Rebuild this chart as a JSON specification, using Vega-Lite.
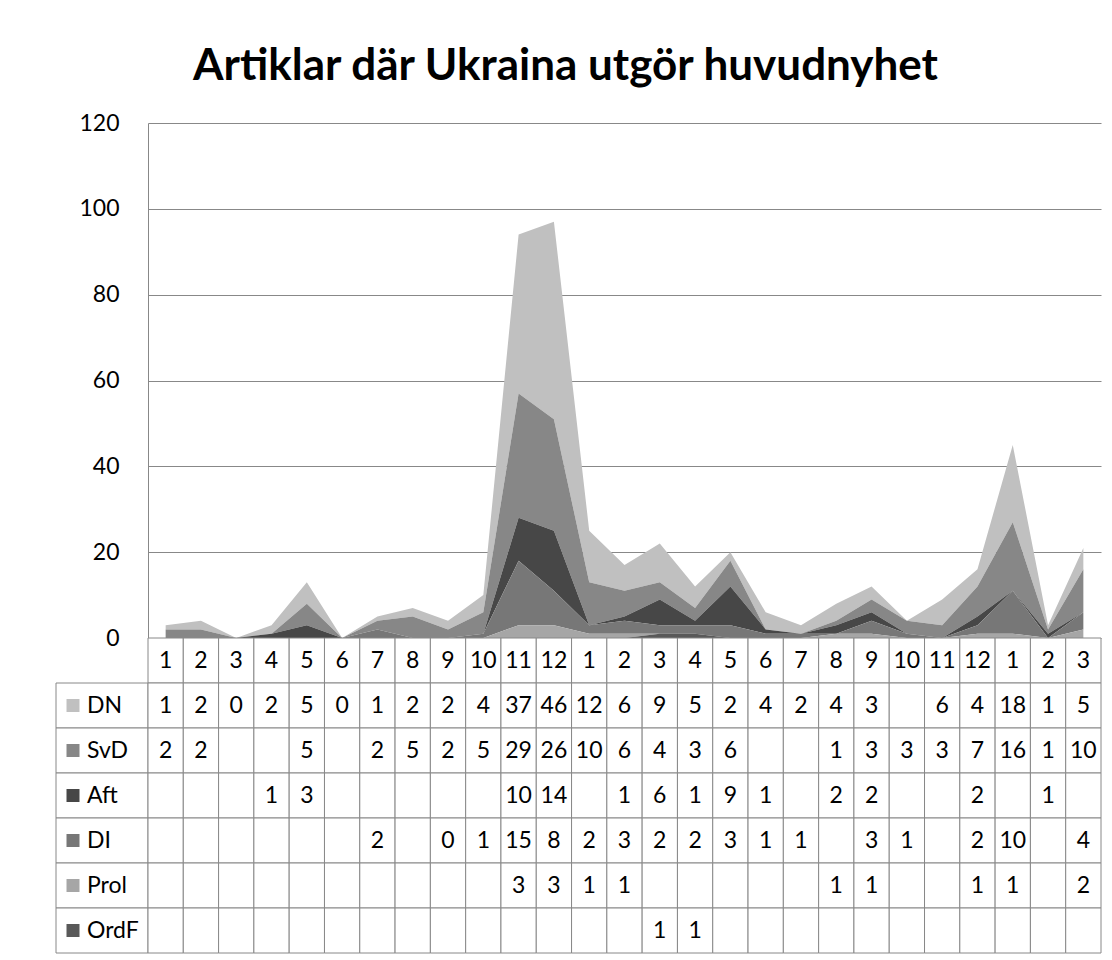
{
  "$schema": "https://vega.github.io/schema/vega-lite/v6.json",
  "background": "white",
  "padding": {"left": 55, "top": 45, "right": 5, "bottom": 5},
  "title": {"text": "Artiklar där Ukraina utgör huvudnyhet", "font": "Lato", "fontSize": 44, "fontWeight": "bold", "color": "#000000", "anchor": "middle", "offset": 23, "dx": -13},
  "datasets": {
    "d": [
      {"k": "2004-01", "m": 1, "DN": 1, "SvD": 2, "Aft": null, "DI": null, "Prol": null, "OrdF": null},
      {"k": "2004-02", "m": 2, "DN": 2, "SvD": 2, "Aft": null, "DI": null, "Prol": null, "OrdF": null},
      {"k": "2004-03", "m": 3, "DN": 0, "SvD": null, "Aft": null, "DI": null, "Prol": null, "OrdF": null},
      {"k": "2004-04", "m": 4, "DN": 2, "SvD": null, "Aft": 1, "DI": null, "Prol": null, "OrdF": null},
      {"k": "2004-05", "m": 5, "DN": 5, "SvD": 5, "Aft": 3, "DI": null, "Prol": null, "OrdF": null},
      {"k": "2004-06", "m": 6, "DN": 0, "SvD": null, "Aft": null, "DI": null, "Prol": null, "OrdF": null},
      {"k": "2004-07", "m": 7, "DN": 1, "SvD": 2, "Aft": null, "DI": 2, "Prol": null, "OrdF": null},
      {"k": "2004-08", "m": 8, "DN": 2, "SvD": 5, "Aft": null, "DI": null, "Prol": null, "OrdF": null},
      {"k": "2004-09", "m": 9, "DN": 2, "SvD": 2, "Aft": null, "DI": 0, "Prol": null, "OrdF": null},
      {"k": "2004-10", "m": 10, "DN": 4, "SvD": 5, "Aft": null, "DI": 1, "Prol": null, "OrdF": null},
      {"k": "2004-11", "m": 11, "DN": 37, "SvD": 29, "Aft": 10, "DI": 15, "Prol": 3, "OrdF": null},
      {"k": "2004-12", "m": 12, "DN": 46, "SvD": 26, "Aft": 14, "DI": 8, "Prol": 3, "OrdF": null},
      {"k": "2005-01", "m": 1, "DN": 12, "SvD": 10, "Aft": null, "DI": 2, "Prol": 1, "OrdF": null},
      {"k": "2005-02", "m": 2, "DN": 6, "SvD": 6, "Aft": 1, "DI": 3, "Prol": 1, "OrdF": null},
      {"k": "2005-03", "m": 3, "DN": 9, "SvD": 4, "Aft": 6, "DI": 2, "Prol": null, "OrdF": 1},
      {"k": "2005-04", "m": 4, "DN": 5, "SvD": 3, "Aft": 1, "DI": 2, "Prol": null, "OrdF": 1},
      {"k": "2005-05", "m": 5, "DN": 2, "SvD": 6, "Aft": 9, "DI": 3, "Prol": null, "OrdF": null},
      {"k": "2005-06", "m": 6, "DN": 4, "SvD": null, "Aft": 1, "DI": 1, "Prol": null, "OrdF": null},
      {"k": "2005-07", "m": 7, "DN": 2, "SvD": null, "Aft": null, "DI": 1, "Prol": null, "OrdF": null},
      {"k": "2005-08", "m": 8, "DN": 4, "SvD": 1, "Aft": 2, "DI": null, "Prol": 1, "OrdF": null},
      {"k": "2005-09", "m": 9, "DN": 3, "SvD": 3, "Aft": 2, "DI": 3, "Prol": 1, "OrdF": null},
      {"k": "2005-10", "m": 10, "DN": null, "SvD": 3, "Aft": null, "DI": 1, "Prol": null, "OrdF": null},
      {"k": "2005-11", "m": 11, "DN": 6, "SvD": 3, "Aft": null, "DI": null, "Prol": null, "OrdF": null},
      {"k": "2005-12", "m": 12, "DN": 4, "SvD": 7, "Aft": 2, "DI": 2, "Prol": 1, "OrdF": null},
      {"k": "2006-01", "m": 1, "DN": 18, "SvD": 16, "Aft": null, "DI": 10, "Prol": 1, "OrdF": null},
      {"k": "2006-02", "m": 2, "DN": 1, "SvD": 1, "Aft": 1, "DI": null, "Prol": null, "OrdF": null},
      {"k": "2006-03", "m": 3, "DN": 5, "SvD": 10, "Aft": null, "DI": 4, "Prol": 2, "OrdF": null}
    ]
  },
  "data": {"name": "d"},
  "columns": 2,
  "bounds": "flush",
  "spacing": {"row": 0, "column": 0},
  "resolve": {"scale": {"x": "independent", "y": "independent", "color": "independent"}},
  "concat": [
    {
      "width": 92,
      "height": 515,
      "view": {"stroke": null},
      "data": {"values": []},
      "mark": {"type": "point", "opacity": 0},
      "encoding": {}
    },
    {
      "width": 953,
      "height": 515,
      "view": {"stroke": null},
      "transform": [
        {"fold": ["DN", "SvD", "Aft", "DI", "Prol", "OrdF"], "as": ["s", "v"]},
        {"filter": "datum.v != null"},
        {"impute": "v", "key": "k", "groupby": ["s"], "value": 0},
        {"calculate": "indexof(['OrdF','Prol','DI','Aft','SvD','DN'], datum.s)", "as": "o"}
      ],
      "mark": {"type": "area"},
      "encoding": {
        "x": {
          "field": "k", "type": "ordinal",
          "scale": {"type": "point", "padding": 0.5},
          "axis": null
        },
        "y": {
          "field": "v", "type": "quantitative", "stack": "zero",
          "scale": {"domain": [0, 120], "nice": false},
          "axis": {
            "title": null, "values": [0, 20, 40, 60, 80, 100, 120],
            "grid": true, "gridColor": "#888888", "domain": true, "domainColor": "#888888",
            "ticks": false, "labelPadding": 29, "labelFont": "Lato", "labelFontSize": 23, "labelColor": "#000000"
          }
        },
        "color": {
          "field": "s", "type": "nominal",
          "scale": {"domain": ["DN", "SvD", "Aft", "DI", "Prol", "OrdF"], "range": ["#c0c0c0", "#878787", "#474747", "#777777", "#a6a6a6", "#595959"]},
          "legend": null
        },
        "order": {"field": "o", "type": "quantitative"}
      }
    },
    {
      "width": 92,
      "height": 315,
      "view": {"stroke": null},
      "transform": [
        {"fold": ["DN", "SvD", "Aft", "DI", "Prol", "OrdF"], "as": ["s", "v"]},
        {"aggregate": [{"op": "count", "as": "n"}], "groupby": ["s"]}
      ],
      "encoding": {
        "y": {
          "field": "s", "type": "nominal",
          "scale": {"domain": ["m", "DN", "SvD", "Aft", "DI", "Prol", "OrdF"], "paddingInner": 0, "paddingOuter": 0},
          "axis": null
        }
      },
      "layer": [
        {"mark": {"type": "rect", "fill": "#ffffff", "stroke": "#888888", "strokeWidth": 1}},
        {
          "mark": {"type": "point", "shape": "square", "filled": true, "size": 169, "opacity": 1, "xOffset": -29},
          "encoding": {
            "color": {
              "field": "s", "type": "nominal",
              "scale": {"domain": ["DN", "SvD", "Aft", "DI", "Prol", "OrdF"], "range": ["#c0c0c0", "#878787", "#474747", "#777777", "#a6a6a6", "#595959"]},
              "legend": null
            }
          }
        },
        {
          "mark": {"type": "text", "align": "left", "dx": -15, "font": "Lato", "fontSize": 23, "color": "#000000"},
          "encoding": {"text": {"field": "s", "type": "nominal"}}
        }
      ]
    },
    {
      "width": 953,
      "height": 315,
      "view": {"stroke": null},
      "transform": [
        {"fold": ["m", "DN", "SvD", "Aft", "DI", "Prol", "OrdF"], "as": ["s", "v"]}
      ],
      "encoding": {
        "x": {"field": "k", "type": "ordinal", "scale": {"type": "band", "paddingInner": 0, "paddingOuter": 0}, "axis": null},
        "y": {
          "field": "s", "type": "nominal",
          "scale": {"domain": ["m", "DN", "SvD", "Aft", "DI", "Prol", "OrdF"], "paddingInner": 0, "paddingOuter": 0},
          "axis": null
        }
      },
      "layer": [
        {"mark": {"type": "rect", "fill": "#ffffff", "stroke": "#888888", "strokeWidth": 1}},
        {
          "transform": [{"filter": "datum.v != null"}],
          "mark": {"type": "text", "font": "Lato", "fontSize": 23, "color": "#000000"},
          "encoding": {"text": {"field": "v", "type": "quantitative"}}
        }
      ]
    }
  ]
}
